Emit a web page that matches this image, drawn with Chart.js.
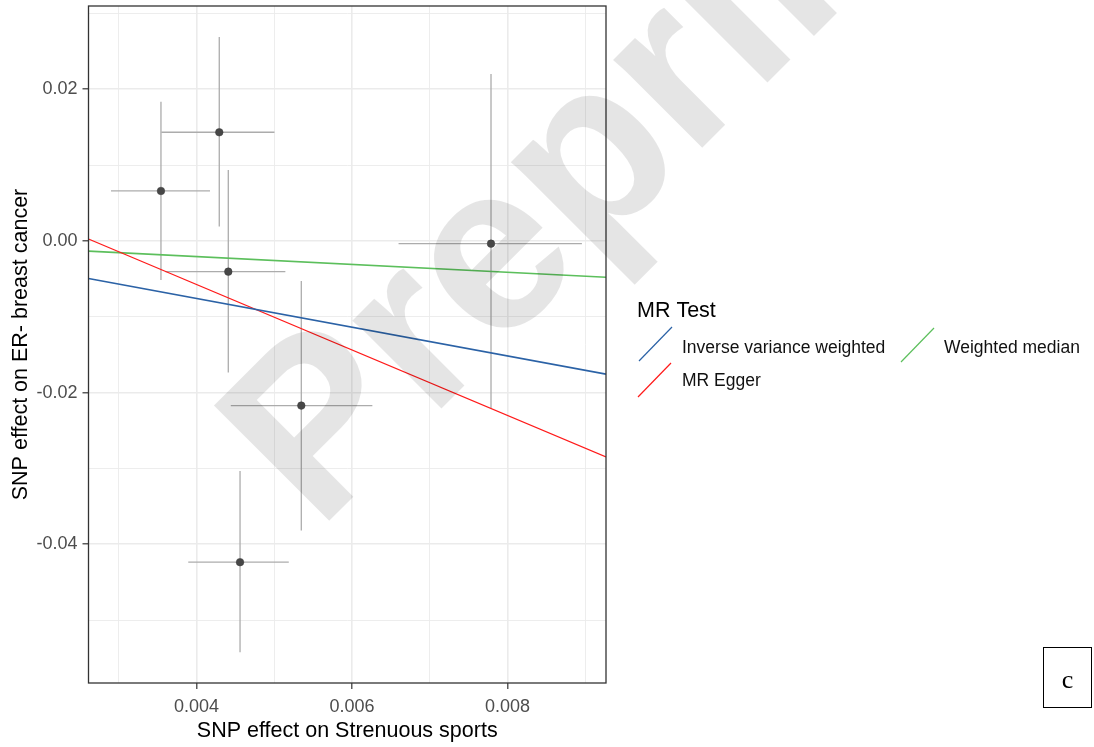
<!DOCTYPE html>
<html lang="en">
<head>
<meta charset="UTF-8">
<title>MR scatter plot - Strenuous sports vs ER- breast cancer</title>
<script src="https://cdn.jsdelivr.net/npm/chart.js"></script>
<style>
    body { margin: 0; background: #fff; }
    #wrap { position: relative; width: 1094px; height: 747px; }
    .panel-tag {
        position: absolute; left: 1043px; top: 647px;
        width: 49px; height: 61px; box-sizing: border-box;
        border: 1px solid #000;
        font-family: "Liberation Serif", "Times New Roman", serif;
        font-size: 26px; line-height: 1;
        display: flex; align-items: center; justify-content: center;
        padding-top: 4px;
    }
</style>
</head>
<body>
<div id="wrap">
    <canvas id="mrChart" width="1094" height="747"></canvas>
    <div class="panel-tag">c</div>
</div>
<script>
// SNP effects
var snpX    = [0.003543, 0.004293, 0.004409, 0.005348, 0.004560, 0.007788];
var snpY    = [0.00659, 0.01433, -0.00405, -0.02171, -0.04236, -0.00036];
var snpXLow = [0.00290, 0.003548, 0.003600, 0.004441, 0.003894, 0.006599];
var snpXHigh= [0.004174, 0.005003, 0.005143, 0.006262, 0.005187, 0.008957];
var snpYLow = [-0.00514, 0.00189, -0.01736, -0.03819, -0.05423, -0.02206];
var snpYHigh= [0.01837, 0.02690, 0.00936, -0.00527, -0.03032, 0.02202];

// MR methods (abline: intercept + slope)
var mrMethods    = ['Inverse variance weighted', 'MR Egger', 'Weighted median'];
var mrIntercepts = [0, 0.01153, 0];
var mrSlopes     = [-1.896, -4.318, -0.5165];
var mrColors     = ['#2b62a6', '#ff1a1a', '#5cbf5c'];

// axis ranges and ticks
var xRange = [0.002611, 0.009267];
var yRange = [-0.05829, 0.03098];
var xMajorTicks = [0.004, 0.006, 0.008];
var xMinorTicks = [0.003, 0.005, 0.007, 0.009];
var yMajorTicks = [-0.04, -0.02, 0.00, 0.02];
var yMinorTicks = [-0.05, -0.03, -0.01, 0.01, 0.03];

var FONT = '"Liberation Sans", Arial, sans-serif';

function isMajor(v, list) {
    return list.some(function(m) { return Math.abs(m - v) < 1e-9; });
}

var datasets = [];

// regression lines on top
mrMethods.forEach(function(name, i) {
    datasets.push({
        label: name,
        data: [
            { x: xRange[0], y: mrIntercepts[i] + mrSlopes[i] * xRange[0] },
            { x: xRange[1], y: mrIntercepts[i] + mrSlopes[i] * xRange[1] }
        ],
        showLine: true,
        borderColor: mrColors[i],
        borderWidth: i === 1 ? 1.2 : 1.7,
        pointRadius: 0
    });
});

// points
datasets.push({
    label: 'SNPs',
    data: snpX.map(function(x, i) { return { x: x, y: snpY[i] }; }),
    pointRadius: 3.8,
    backgroundColor: '#474747',
    borderColor: '#3a3a3a',
    borderWidth: 0.5
});

// error bars
snpX.forEach(function(x, i) {
    datasets.push({
        label: 'vbar' + i,
        data: [{ x: x, y: snpYLow[i] }, { x: x, y: snpYHigh[i] }],
        showLine: true, borderColor: '#acacac', borderWidth: 1.3, pointRadius: 0
    });
    datasets.push({
        label: 'hbar' + i,
        data: [{ x: snpXLow[i], y: snpY[i] }, { x: snpXHigh[i], y: snpY[i] }],
        showLine: true, borderColor: '#acacac', borderWidth: 1.3, pointRadius: 0
    });
});

// panel border drawn over the data like ggplot
var panelFrame = {
    id: 'panelFrame',
    afterDatasetsDraw: function(chart) {
        var a = chart.chartArea, ctx = chart.ctx;
        ctx.save();
        ctx.strokeStyle = '#333333';
        ctx.lineWidth = 1.3;
        ctx.strokeRect(a.left, a.top, a.right - a.left, a.bottom - a.top);
        ctx.restore();
    }
};

// ggplot style legend + watermark
var legendAndMark = {
    id: 'legendAndMark',
    afterDraw: function(chart) {
        var ctx = chart.ctx;
        ctx.save();
        ctx.fillStyle = '#000';
        ctx.textBaseline = 'alphabetic';
        ctx.font = '21.5px ' + FONT;
        ctx.fillText('MR Test', 637, 317);

        var keys = [
            { x: 639, y: 361, tx: 682, ty: 353 },
            { x: 638, y: 397, tx: 682, ty: 386 },
            { x: 901, y: 362, tx: 944, ty: 353 }
        ];
        ctx.font = '17.5px ' + FONT;
        mrMethods.forEach(function(name, i) {
            var k = keys[i];
            ctx.strokeStyle = mrColors[i];
            ctx.lineWidth = 1.2;
            ctx.beginPath();
            ctx.moveTo(k.x, k.y);
            ctx.lineTo(k.x + 33, k.y - 34);
            ctx.stroke();
            ctx.fillStyle = '#111';
            ctx.fillText(name, k.tx, k.ty);
        });

        // "Preprint" watermark
        ctx.translate(318, 532);
        ctx.rotate(-Math.PI / 4);
        ctx.font = 'bold 237px ' + FONT;
        ctx.fillStyle = 'rgba(0, 0, 0, 0.1)';
        ctx.fillText('Preprint', 0, 0);
        ctx.restore();
    }
};

new Chart(document.getElementById('mrChart'), {
    type: 'scatter',
    data: { datasets: datasets },
    plugins: [panelFrame, legendAndMark],
    options: {
        responsive: false,
        animation: false,
        events: [],
        layout: { padding: { left: 0, top: 6, right: 488, bottom: 0 } },
        plugins: { legend: { display: false }, tooltip: { enabled: false } },
        scales: {
            x: {
                type: 'linear', min: xRange[0], max: xRange[1],
                afterBuildTicks: function(axis) {
                    axis.ticks = xMajorTicks.concat(xMinorTicks).sort(function(a, b) { return a - b; })
                        .map(function(v) { return { value: v }; });
                },
                afterFit: function(scale) {
                    scale.height = 64;
                    scale.paddingLeft = 0; scale.paddingRight = 0;
                },
                border: { display: false },
                grid: {
                    color: '#ebebeb',
                    lineWidth: function(c) { return c.tick && isMajor(c.tick.value, xMajorTicks) ? 1.6 : 0.9; },
                    tickColor: function(c) { return c.tick && isMajor(c.tick.value, xMajorTicks) ? '#333333' : 'rgba(0,0,0,0)'; },
                    tickWidth: 1.2,
                    tickLength: 6
                },
                ticks: {
                    autoSkip: false, maxRotation: 0, padding: 7,
                    color: '#4d4d4d', font: { family: FONT, size: 18 },
                    callback: function(v) { return isMajor(v, xMajorTicks) ? v.toFixed(3) : ''; }
                },
                title: {
                    display: true, text: 'SNP effect on Strenuous sports',
                    color: '#000', font: { family: FONT, size: 21.5 },
                    padding: { top: 0, bottom: 3 }
                }
            },
            y: {
                type: 'linear', min: yRange[0], max: yRange[1],
                afterBuildTicks: function(axis) {
                    axis.ticks = yMajorTicks.concat(yMinorTicks).sort(function(a, b) { return a - b; })
                        .map(function(v) { return { value: v }; });
                },
                afterFit: function(scale) {
                    scale.width = 88.5;
                    scale.paddingTop = 0; scale.paddingBottom = 0;
                },
                border: { display: false },
                grid: {
                    color: '#ebebeb',
                    lineWidth: function(c) { return c.tick && isMajor(c.tick.value, yMajorTicks) ? 1.6 : 0.9; },
                    tickColor: function(c) { return c.tick && isMajor(c.tick.value, yMajorTicks) ? '#333333' : 'rgba(0,0,0,0)'; },
                    tickWidth: 1.2,
                    tickLength: 6
                },
                ticks: {
                    autoSkip: false, padding: 5,
                    color: '#4d4d4d', font: { family: FONT, size: 18 },
                    callback: function(v) { return isMajor(v, yMajorTicks) ? v.toFixed(2) : ''; }
                },
                title: {
                    display: true, text: 'SNP effect on ER- breast cancer',
                    color: '#000', font: { family: FONT, size: 21.5 },
                    padding: { top: 8.5, bottom: 0 }
                }
            }
        }
    }
});
</script>
</body>
</html>
